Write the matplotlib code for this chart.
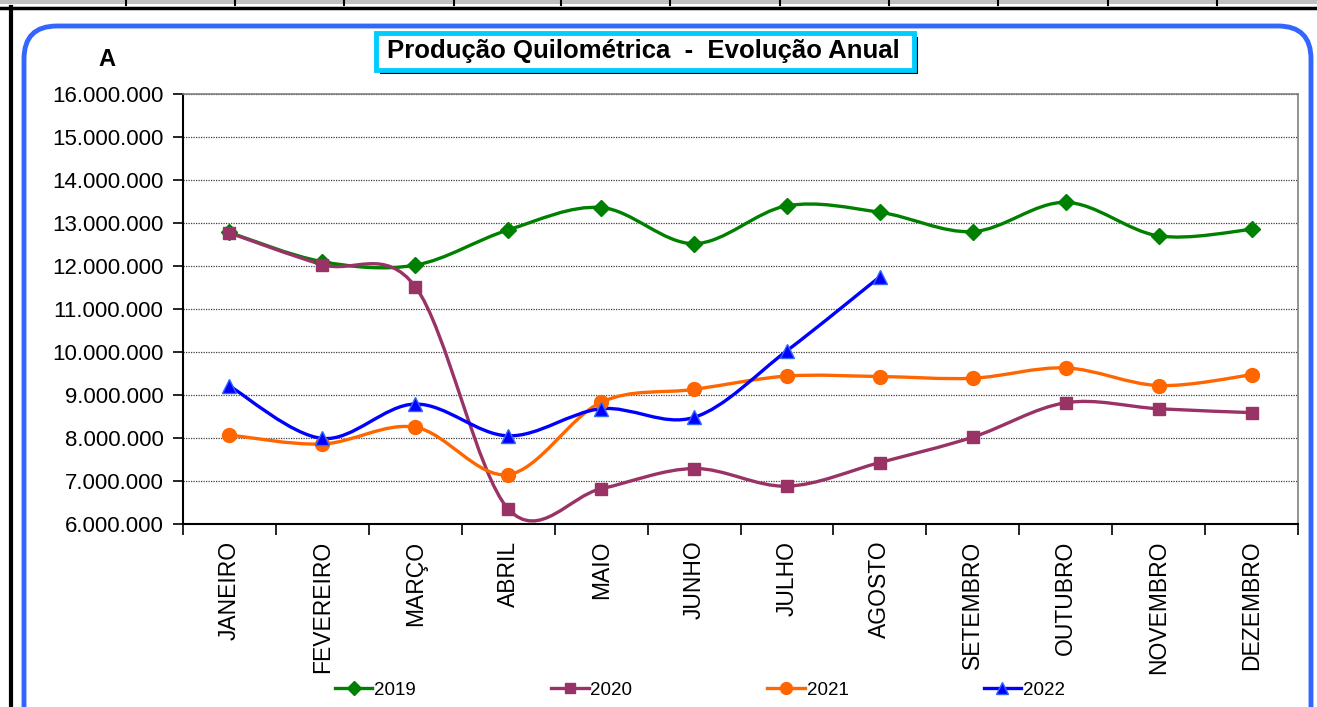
import numpy as np
import matplotlib
matplotlib.use("Agg")
import matplotlib.pyplot as plt
from matplotlib.path import Path
from matplotlib.patches import PathPatch, FancyBboxPatch, Rectangle
from matplotlib.lines import Line2D
from matplotlib.ticker import FuncFormatter, FixedLocator

plt.rcParams['font.family'] = ['Liberation Sans', 'DejaVu Sans']

meses = ["JANEIRO", "FEVEREIRO", "MARÇO", "ABRIL", "MAIO", "JUNHO",
         "JULHO", "AGOSTO", "SETEMBRO", "OUTUBRO", "NOVEMBRO", "DEZEMBRO"]

# values in km
km_2019 = [12.78e6, 12.10e6, 12.02e6, 12.84e6, 13.36e6, 12.52e6,
           13.40e6, 13.25e6, 12.80e6, 13.48e6, 12.70e6, 12.85e6]
km_2020 = [12.77e6, 12.03e6, 11.52e6, 6.35e6, 6.82e6, 7.29e6,
           6.88e6, 7.43e6, 8.02e6, 8.82e6, 8.68e6, 8.59e6]
km_2021 = [8.07e6, 7.86e6, 8.25e6, 7.15e6, 8.83e6, 9.13e6,
           9.44e6, 9.43e6, 9.39e6, 9.63e6, 9.22e6, 9.47e6]
km_2022 = [9.21e6, 7.99e6, 8.79e6, 8.05e6, 8.68e6, 8.48e6,
           10.03e6, 11.75e6]

anos = ["2019", "2020", "2021", "2022"]
series = [km_2019, km_2020, km_2021, km_2022]
cores = ["#008000", "#993366", "#FF6600", "#0000FF"]
marcadores = ["D", "s", "o", "^"]
tam_marc = [8, 8, 10, 10]

W, H = 1317, 707
fig = plt.figure(figsize=(W / 100, H / 100), dpi=100)


def fx(px):
    return px / W


def fy(py):
    return 1 - py / H


# spreadsheet bits around the chart
fig.patches.append(Rectangle((0, fy(4)), 1, 4 / H, transform=fig.transFigure,
                             facecolor="#C0C0C0", edgecolor="none"))
for sx in [126, 235, 344, 454, 561, 670, 780, 889, 998, 1108, 1217]:
    fig.lines.append(Line2D([fx(sx), fx(sx)], [fy(0), fy(5)], transform=fig.transFigure,
                            color="black", lw=1.5))
fig.lines.append(Line2D([0, 1], [fy(8), fy(8)], transform=fig.transFigure, color="black", lw=2.5))
fig.lines.append(Line2D([fx(11), fx(11)], [0, fy(7)], transform=fig.transFigure, color="black", lw=3))

# rounded blue frame
fig.patches.append(FancyBboxPatch((fx(24), fy(740)), fx(1287), 714 / H,
                                  boxstyle="round,pad=0,rounding_size=0.025",
                                  transform=fig.transFigure, facecolor="white",
                                  edgecolor="#3366FF", lw=3.5, mutation_aspect=W / H))

ax = fig.add_axes([fx(183), fy(524), fx(1298 - 183), (524 - 94) / H])
ax.set_zorder(2)
ax.patch.set_alpha(0)

x = np.arange(len(meses))


def curva(xs, ys):
    # Excel-like smoothed line: cubic Bezier through the points
    xs = np.asarray(xs, float)
    ys = np.asarray(ys, float)
    n = len(xs)
    verts = [(xs[0], ys[0])]
    codes = [Path.MOVETO]
    for i in range(n - 1):
        i0 = max(i - 1, 0)
        i3 = min(i + 2, n - 1)
        c1 = (xs[i] + (xs[i + 1] - xs[i0]) / 6, ys[i] + (ys[i + 1] - ys[i0]) / 6)
        c2 = (xs[i + 1] - (xs[i3] - xs[i]) / 6, ys[i + 1] - (ys[i3] - ys[i]) / 6)
        verts += [c1, c2, (xs[i + 1], ys[i + 1])]
        codes += [Path.CURVE4] * 3
    return Path(verts, codes)


for ano, vals, cor, m, ms in zip(anos, series, cores, marcadores, tam_marc):
    xs = x[:len(vals)]
    ax.add_patch(PathPatch(curva(xs, vals), facecolor="none", edgecolor=cor, lw=2.4,
                           capstyle="round", joinstyle="round"))
    ax.plot(xs, vals, linestyle="none", marker=m, ms=ms, color=cor,
            markeredgecolor=("#3366FF" if ano == "2022" else cor))

ax.set_xlim(-0.5, 11.5)
ax.set_ylim(6e6, 16e6)
ax.set_yticks(np.arange(6e6, 16.01e6, 1e6))
ax.yaxis.set_major_formatter(FuncFormatter(lambda v, p: f"{v:,.0f}".replace(",", ".")))
ax.grid(axis="y", color="#404040", linestyle=(0, (1, 1)), lw=0.9)
ax.set_axisbelow(True)

# ticks between categories, labels centred
ax.xaxis.set_major_locator(FixedLocator(np.arange(-0.5, 12, 1)))
ax.xaxis.set_minor_locator(FixedLocator(x))
ax.set_xticklabels([])
ax.set_xticklabels(meses, minor=True, rotation=90, fontsize=16.5)
ax.tick_params(axis="x", which="major", length=8, width=1.2, direction="out")
ax.tick_params(axis="x", which="minor", length=0, pad=12)
ax.tick_params(axis="y", length=7, width=1.2, direction="out", labelsize=16, pad=7)

for s in ["left", "bottom"]:
    ax.spines[s].set_color("black")
    ax.spines[s].set_linewidth(1.5)
for s in ["right", "top"]:
    ax.spines[s].set_color("#808080")
    ax.spines[s].set_linewidth(1.2)

fig.text(fx(107), fy(60), "A", fontsize=17, fontweight="bold", ha="center", va="center")

# title box with shadow
fig.patches.append(Rectangle((fx(380), fy(74)), fx(538), 37 / H, transform=fig.transFigure,
                             facecolor="black", edgecolor="none", zorder=3))
fig.patches.append(Rectangle((fx(376), fy(70)), fx(538), 37 / H, transform=fig.transFigure,
                             facecolor="white", edgecolor="#00CCFF", lw=3.5, zorder=4))
fig.text(fx(643), fy(51), "Produção Quilométrica  -  Evolução Anual", fontsize=18.5,
         fontweight="bold", ha="center", va="center", zorder=5)

handles = [Line2D([], [], color=c, lw=2.4, marker=m, ms=ms * 0.85,
                  markeredgecolor=("#3366FF" if a == "2022" else c))
           for a, c, m, ms in zip(anos, cores, marcadores, tam_marc)]
fig.legend(handles, anos, loc="center", bbox_to_anchor=(fx(700), fy(690)), ncol=4,
           frameon=False, fontsize=13.5, handlelength=2.0, handletextpad=0.1,
           columnspacing=7.2)

fig.savefig("out.png", dpi=100)
